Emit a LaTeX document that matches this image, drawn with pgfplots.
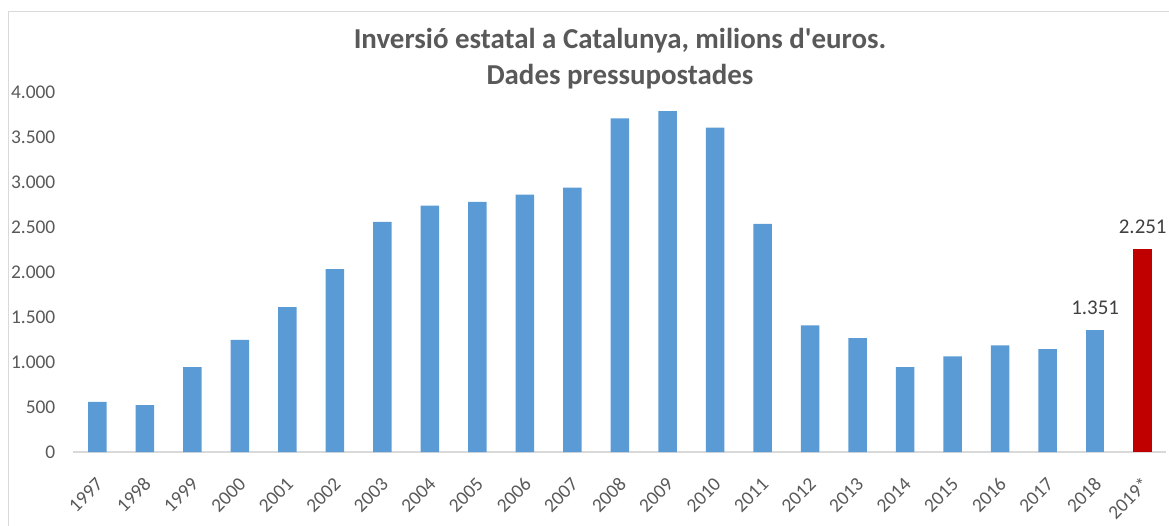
\documentclass[border=0pt]{standalone}
\usepackage{pgfplots}
\pgfplotsset{compat=1.18}
\usepackage{fontspec}
\setmainfont{Carlito}
\definecolor{barblue}{HTML}{5B9BD5}
\definecolor{barred}{HTML}{C00000}
\definecolor{txtgrey}{HTML}{595959}
\definecolor{lblgrey}{HTML}{404040}
\definecolor{linegrey}{HTML}{D9D9D9}
\begin{document}
\begin{tikzpicture}
\useasboundingbox (-73.5bp,-74bp) rectangle (1095.5bp,452bp);
\draw[linegrey, line width=1.3bp] (-65bp,-80bp) -- (-65bp,440.5bp) -- (1100bp,440.5bp);
\begin{axis}[
  at={(0,0)}, anchor=south west,
  scale only axis, width=1093bp, height=360bp,
  ybar, bar width=18.5bp,
  xmin=-0.5, xmax=22.5, ymin=0, ymax=4000,
  xtick={0,...,22},
  xticklabels={1997,1998,1999,2000,2001,2002,2003,2004,2005,2006,2007,2008,2009,2010,2011,2012,2013,2014,2015,2016,2017,2018,2019*},
  ytick={0,500,...,4000},
  axis x line*=bottom, axis y line*=left,
  x axis line style={draw=linegrey, line width=1.3bp},
  y axis line style={draw=none},
  major tick length=0pt,
  clip=false,
  tick label style={font=\fontsize{19.5}{22}\selectfont, text=txtgrey},
  yticklabel style={anchor=east, inner sep=0pt, xshift=-18bp},
  xticklabel style={font=\fontsize{19.5}{22}\selectfont, yshift=-24bp, xshift=-2bp, rotate=45, anchor=north east, inner sep=0pt},
  nodes near coords style={font=\fontsize{21}{24}\selectfont, text=lblgrey, anchor=south, inner sep=0pt, yshift=16bp},
  /pgf/number format/.cd, 1000 sep={.}, assume math mode=true,
]
\addplot[fill=barblue, draw=none, bar shift=0pt] coordinates {
(0,558) (1,522) (2,943) (3,1247) (4,1609) (5,2031) (6,2556) (7,2738) (8,2778) (9,2860)
(10,2938) (11,3707) (12,3788) (13,3604) (14,2534) (15,1406) (16,1265) (17,943) (18,1062)
(19,1184) (20,1143)};
\addplot[fill=barblue, draw=none, bar shift=0pt, nodes near coords] coordinates {(21,1351)};
\addplot[fill=barred, draw=none, bar shift=0pt, nodes near coords] coordinates {(22,2251)};
\node[anchor=base, font=\bfseries\fontsize{29}{32}\selectfont, text=txtgrey] at (rel axis cs:0.5,1) [yshift=43bp] {Inversió estatal a Catalunya, milions d\textquotesingle euros.};
\node[anchor=base, font=\bfseries\fontsize{29}{32}\selectfont, text=txtgrey] at (rel axis cs:0.5,1) [yshift=8bp] {Dades pressupostades};
\end{axis}
\end{tikzpicture}
\end{document}
